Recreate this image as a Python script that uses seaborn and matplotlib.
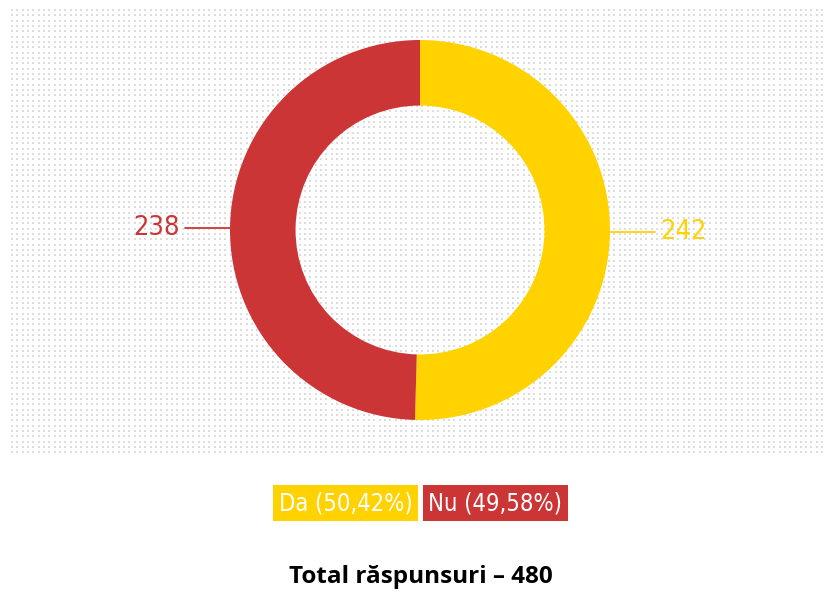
import numpy as np
import matplotlib.pyplot as plt
import matplotlib.patches as mpatches
import seaborn as sns

sns.set_theme(style="white")
plt.rcParams['font.family'] = ['DejaVu Sans']
plt.rcParams['font.stretch'] = 'condensed'

# data
labels = ["Da", "Nu"]
counts = [242, 238]
colors = ["#FFD200", "#CC3535"]
total = sum(counts)

W, H = 828, 599
fig = plt.figure(figsize=(W / 100, H / 100), dpi=100)
ax = fig.add_axes([0, 0, 1, 1])

# dotted background panel
gx = np.arange(12, 826, 5.33)
gy = np.arange(10, 456, 5.33)
xx, yy = np.meshgrid(gx, H - gy)
ax.scatter(xx.ravel(), yy.ravel(), s=1.4, marker="s", color="#dddddd", linewidths=0, zorder=0)

# donut
cx, cy, R = 420, H - 230, 190
wedges, _ = ax.pie(counts, colors=colors, startangle=90, counterclock=False,
                   center=(cx, cy), radius=R,
                   wedgeprops=dict(width=R * 0.345, edgecolor="none"))

# value labels with leader lines
for w, n, c in zip(wedges, counts, colors):
    ang = np.deg2rad((w.theta1 + w.theta2) / 2)
    y0 = cy + R * np.sin(ang)
    side = np.sign(np.cos(ang))
    x0 = cx + R * np.cos(ang)
    x1 = x0 + side * 45
    ax.plot([x0, x1], [y0, y0], color=c, lw=1.3, zorder=3)
    ax.text(x1 + side * 5, y0, str(n), color=c, fontsize=19.5, stretch="condensed",
            ha="left" if side > 0 else "right", va="center")

# legend boxes
bx, by, bw, bh, gap = 273, H - 521, 145, 36, 5
for i, (lab, n, c) in enumerate(zip(labels, counts, colors)):
    x = bx + i * (bw + gap)
    ax.add_patch(mpatches.Rectangle((x, by), bw, bh, color=c, lw=0, zorder=2))
    pct = f"{n / total * 100:.2f}".replace(".", ",")
    ax.text(x + bw / 2, by + bh / 2, f"{lab} ({pct}%)", color="white",
            fontsize=17, stretch="condensed", ha="center", va="center", zorder=3)

ax.text(W / 2 + 7, H - 577, f"Total răspunsuri \u2013 {total}", color="black",
        fontsize=17.5, fontweight="bold", family=["Open Sans", "DejaVu Sans"],
        stretch="normal", ha="center", va="center")

ax.set_xlim(0, W)
ax.set_ylim(0, H)
ax.set_aspect("equal")
ax.axis("off")

fig.savefig("out.png", dpi=100)
